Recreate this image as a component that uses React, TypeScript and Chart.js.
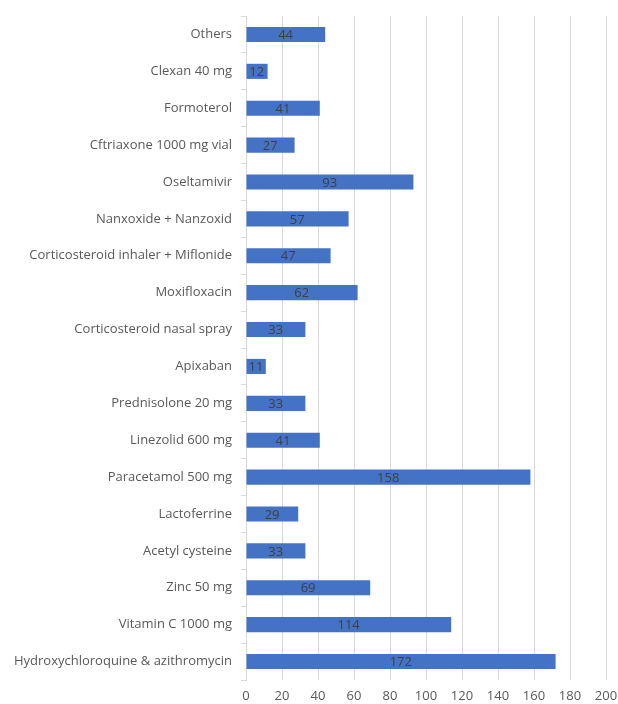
import React, { useEffect, useRef } from "react";
import { Chart, registerables } from "chart.js";

Chart.register(...registerables);

const categories = [
  "Others",
  "Clexan 40 mg",
  "Formoterol",
  "Cftriaxone 1000 mg vial",
  "Oseltamivir",
  "Nanxoxide + Nanzoxid",
  "Corticosteroid inhaler + Miflonide",
  "Moxifloxacin",
  "Corticosteroid nasal spray",
  "Apixaban",
  "Prednisolone 20 mg",
  "Linezolid 600 mg",
  "Paracetamol 500 mg",
  "Lactoferrine",
  "Acetyl cysteine",
  "Zinc 50 mg",
  "Vitamin C 1000 mg",
  "Hydroxychloroquine & azithromycin",
];
const values = [44, 12, 41, 27, 93, 57, 47, 62, 33, 11, 33, 41, 158, 29, 33, 69, 114, 172];
const xTicks = [0, 20, 40, 60, 80, 100, 120, 140, 160, 180, 200];

const FONT = "'Open Sans', 'Liberation Sans', sans-serif";

const valueLabels = {
  id: "valueLabels",
  afterDatasetsDraw(chart: any) {
    const ctx = chart.ctx;
    const meta = chart.getDatasetMeta(0);
    const xs = chart.scales.x;
    ctx.save();
    ctx.font = `13px ${FONT}`;
    ctx.fillStyle = "#404040";
    ctx.textAlign = "center";
    ctx.textBaseline = "middle";
    meta.data.forEach((bar: any, i: number) => {
      const v = values[i];
      const cx = (xs.getPixelForValue(0) + xs.getPixelForValue(v)) / 2;
      ctx.fillText(String(v), cx, bar.y + 1);
    });
    ctx.restore();
  },
};

export default function App() {
  const ref = useRef<HTMLCanvasElement>(null);
  useEffect(() => {
    const chart = new Chart(ref.current!, {
      type: "bar",
      data: {
        labels: categories,
        datasets: [
          {
            data: values,
            backgroundColor: "#4472C4",
            borderWidth: 0,
            barPercentage: 0.41,
            categoryPercentage: 1,
          },
        ],
      },
      options: {
        indexAxis: "y",
        animation: false,
        responsive: false,
        maintainAspectRatio: false,
        layout: { padding: { top: 16, right: 12, left: 0, bottom: 0 } },
        plugins: { legend: { display: false }, tooltip: { enabled: false } },
        scales: {
          x: {
            min: 0,
            max: 200,
            afterBuildTicks: (axis: any) => {
              axis.ticks = xTicks.map((v) => ({ value: v }));
            },
            afterFit: (axis: any) => {
              axis.height = 24;
              axis.paddingRight = 0;
              axis.paddingLeft = 0;
            },
            grid: { color: "#d9d9d9", drawTicks: false, lineWidth: 1 },
            border: { display: false },
            ticks: {
              color: "#595959",
              font: { family: FONT, size: 13 },
              padding: 8,
            },
          },
          y: {
            afterFit: (axis: any) => {
              axis.width = 246;
              axis.paddingTop = 0;
              axis.paddingBottom = 0;
            },
            grid: {
              offset: true,
              drawOnChartArea: false,
              drawTicks: true,
              tickLength: 5,
              color: "#d9d9d9",
            },
            border: { display: true, color: "#d9d9d9" },
            ticks: {
              color: "#595959",
              font: { family: FONT, size: 13 },
              padding: 9,
              autoSkip: false,
            },
          },
        },
      },
      plugins: [valueLabels],
    });
    return () => chart.destroy();
  }, []);
  return (
    <div style={{ position: "fixed", left: 0, top: 0, width: 618, height: 704, background: "#fff" }}>
      <canvas ref={ref} width={618} height={704} />
    </div>
  );
}
